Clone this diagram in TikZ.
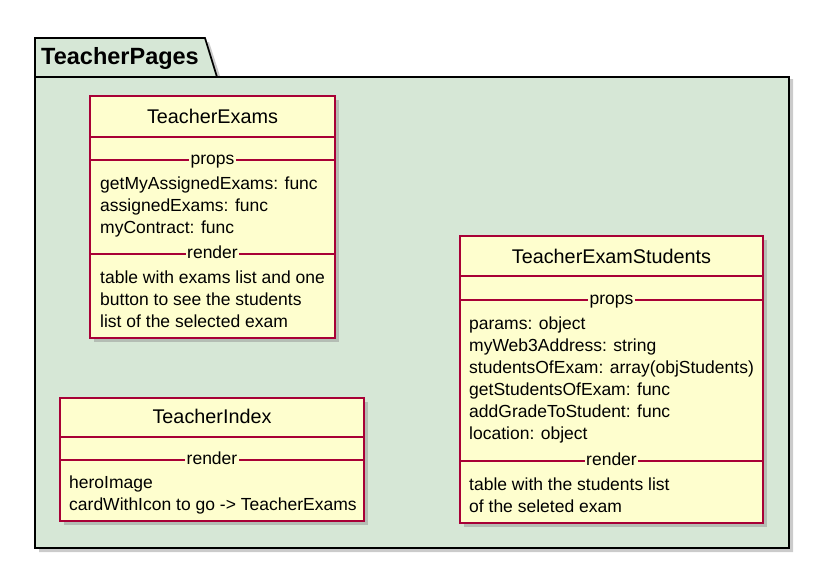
\documentclass[tikz,border=0pt]{standalone}
\usepackage{fontspec}
\setmainfont{Liberation Sans}
\usetikzlibrary{positioning}

\definecolor{pkgfill}{RGB}{214,231,214}
\definecolor{classfill}{RGB}{254,254,206}
\definecolor{classline}{RGB}{168,0,54}

\tikzset{
  pkgline/.style={draw=black, line width=1.7pt, fill=pkgfill},
  classbox/.style={draw=classline, fill=classfill, line width=1.7pt},
  shadebox/.style={fill=black!45, opacity=0.45},
  sepline/.style={draw=classline, line width=1.1pt},
  pkgtitle/.style={font=\bfseries\fontsize{23.5}{23.5}\selectfont, anchor=base west, inner sep=0pt},
  title/.style={font=\fontsize{19.8}{19.8}\selectfont, anchor=base, inner sep=0pt},
  attr/.style={font=\fontsize{17.5}{17.5}\selectfont, anchor=base west, inner sep=0pt},
  section/.style={font=\fontsize{17.5}{17.5}\selectfont, anchor=base, fill=classfill, inner ysep=0pt, inner xsep=1.5pt}
}

\begin{document}
\begin{tikzpicture}[x=1pt,y=-1pt]
   \useasboundingbox (0,0) rectangle (822,566);

   %% Paket
   \fill[shadebox] (39,42) -- (209,42) -- (221,79) -- (793,79) -- (793,552) -- (39,552) -- cycle;
   \draw[pkgline] (35,38) -- (205,38) -- (217,77) -- (35,77) -- cycle;
   \draw[pkgline] (35,77) rectangle (789,548);
   \node[pkgtitle] (pkgName) at (41,64) {TeacherPages};

   %% TeacherExams
   \fill[shadebox] (94,100) rectangle (339,342);
   \draw[classbox] (90,96) rectangle (335,338);
   \draw[sepline] (90,137) -- (335,137);
   \draw[sepline] (90,160) -- (335,160);
   \draw[sepline] (90,254) -- (335,254);
   \node[title] (examsName) at (212.5,123) {TeacherExams};
   \node[section] (examsProps) at (212.5,164.5) {props};
   \node[attr] (examsA) at (100,189) {getMyAssignedExams: func};
   \node[attr] (examsB) at (100,211) {assignedExams: func};
   \node[attr] (examsC) at (100,233) {myContract: func};
   \node[section] (examsRender) at (212.5,258.5) {render};
   \node[attr] (examsR1) at (100,283) {table with exams list and one};
   \node[attr] (examsR2) at (100,305) {button to see the students};
   \node[attr] (examsR3) at (100,327) {list of the selected exam};

   %% TeacherExamStudents
   \fill[shadebox] (464,240) rectangle (767,527);
   \draw[classbox] (460,236) rectangle (763,523);
   \draw[sepline] (460,276) -- (763,276);
   \draw[sepline] (460,300) -- (763,300);
   \draw[sepline] (460,461) -- (763,461);
   \node[title] (studName) at (611.5,263) {TeacherExamStudents};
   \node[section] (studProps) at (611.5,304.5) {props};
   \node[attr] (studA) at (469,329) {params: object};
   \node[attr] (studB) at (469,351) {myWeb3Address: string};
   \node[attr] (studC) at (469,373) {studentsOfExam: array(objStudents)};
   \node[attr] (studD) at (469,395) {getStudentsOfExam: func};
   \node[attr] (studE) at (469,417) {addGradeToStudent: func};
   \node[attr] (studF) at (469,439) {location: object};
   \node[section] (studRender) at (611.5,465.5) {render};
   \node[attr] (studR1) at (469,490) {table with the students list};
   \node[attr] (studR2) at (469,512) {of the seleted exam};

   %% TeacherIndex
   \fill[shadebox] (64,402) rectangle (368,525);
   \draw[classbox] (60,398) rectangle (364,521);
   \draw[sepline] (60,437) -- (364,437);
   \draw[sepline] (60,460) -- (364,460);
   \node[title] (indexName) at (212,423) {TeacherIndex};
   \node[section] (indexRender) at (212,464.5) {render};
   \node[attr] (indexR1) at (69,488) {heroImage};
   \node[attr] (indexR2) at (69,510) {cardWithIcon to go -> TeacherExams};
\end{tikzpicture}
\end{document}
